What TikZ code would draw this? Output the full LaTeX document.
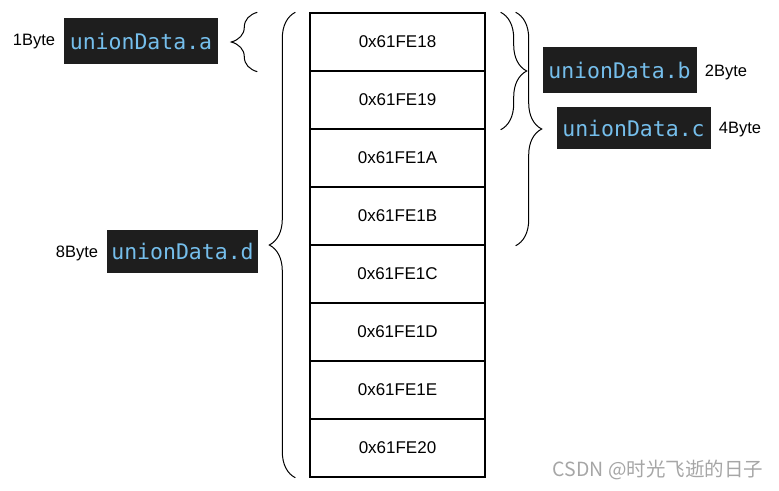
\documentclass[tikz,border=0pt]{standalone}
\usepackage{fontspec}
\setmainfont{Liberation Sans}
\setmonofont{DejaVu Sans Mono}
\newfontfamily\cjkfont{Noto Sans CJK SC}
\usetikzlibrary{decorations.pathreplacing}
\definecolor{codebg}{HTML}{1E1E1E}
\definecolor{codefg}{HTML}{75BEEB}

\begin{document}
\begin{tikzpicture}[x=1pt,y=-1pt,
    cell/.style={draw,line width=1.4pt,minimum width=175pt,minimum height=58pt,
      font=\fontsize{17}{20}\selectfont},
    var/.style={fill=codebg,text=codefg,inner sep=0pt,minimum width=154pt,
      minimum height=46pt,font=\ttfamily\fontsize{21.5}{24}\selectfont},
    size/.style={font=\fontsize{16.5}{19}\selectfont},
    curly/.style={decorate,decoration={brace,amplitude=26pt},line width=1pt}]
      \useasboundingbox (0,0) rectangle (779,490);
      % memory cells
      \foreach \addr [count=\i] in {18,19,1A,1B,1C,1D,1E,20}
        \node[cell] (m\i) at (397.5,{42+58*(\i-1)}) {0x61FE\addr};
      % a
      \node[var] (va) at (141,41) {unionData.a};
      \node[size] (sa) at (34,42) {1Byte};
      \draw[curly] ([xshift=-52pt]m1.south west) -- ([xshift=-52pt]m1.north west);
      % d
      \node[var,minimum width=151pt,minimum height=43pt] (vd) at (182.5,251.5) {unionData.d};
      \node[size] (sd) at (77,253) {8Byte};
      \draw[curly] ([xshift=-14pt]m8.south west) -- ([xshift=-14pt]m1.north west);
      % b
      \node[var] (vb) at (619.5,70) {unionData.b};
      \node[size] (sb) at (726,72) {2Byte};
      \draw[curly] ([xshift=15pt]m1.north east) -- ([xshift=15pt]m2.south east);
      % c
      \node[var,minimum height=42pt] (vc) at (633.5,128) {unionData.c};
      \node[size] (sc) at (740,130) {4Byte};
      \draw[curly] ([xshift=30pt]m1.north east) -- ([xshift=30pt]m4.south east);
      % watermark
      \node[text=gray!70,font=\cjkfont\fontsize{19.5}{22}\selectfont] (mark) at (658,470)
        {CSDN @时光飞逝的日子};
    \end{tikzpicture}
\end{document}
